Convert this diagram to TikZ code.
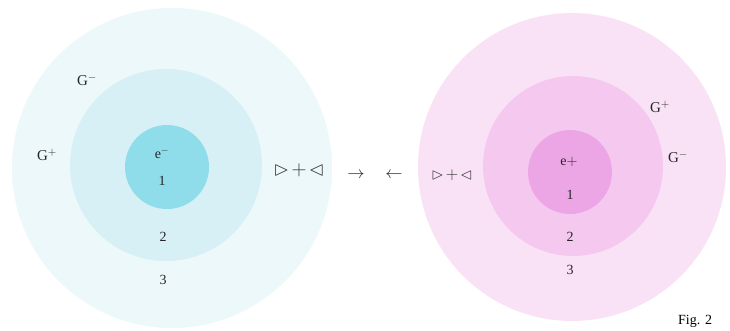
\documentclass[tikz,border=0pt]{standalone}
\usepackage{amssymb}
\usepackage{fontspec}
\setmainfont{Liberation Serif}
\definecolor{bOut}{HTML}{EDF8FB}
\definecolor{bMid}{HTML}{D6F0F5}
\definecolor{bIn}{HTML}{8FDCEA}
\definecolor{pOut}{HTML}{FAE2F6}
\definecolor{pMid}{HTML}{F5C8EF}
\definecolor{pIn}{HTML}{EDA6E5}
\tikzset{lbl/.style={inner sep=0pt, font=\fontsize{14}{15}\selectfont, text=black!85},
  glbl/.style={inner sep=0pt, font=\fontsize{15}{16}\selectfont, text=black!85},
  tri/.style={inner sep=0pt, font=\fontsize{20}{21}\selectfont, text=black!80}}
\begin{document}
\begin{tikzpicture}[x=1pt,y=-1pt]
\clip (0,0) rectangle (730,330);
\fill[white] (0,0) rectangle (730,330);
% left atom
\fill[bOut] (172,168) circle (160);
\fill[bMid] (166,165) circle (96);
\fill[bIn] (167,167) circle (42);
% right atom
\fill[pOut] (572,167) circle (154);
\fill[pMid] (573,166) circle (90);
\fill[pIn] (570,172) circle (42);
% left labels
\node[glbl] (gm1) at (87,80) {G$^{-}$};
\node[glbl] (gp1) at (47,155) {G$^{+}$};
\node[lbl] (e1) at (162,153) {e$^{-}$};
\node[lbl] (n11) at (162,181) {1};
\node[lbl] (n12) at (163,237) {2};
\node[lbl] (n13) at (163,280) {3};
\node[tri] (t1) at (299,170) {$\vartriangleright\!+\!\vartriangleleft$};
\node[lbl, font=\fontsize{17}{18}\selectfont] (a1) at (356,175) {$\rightarrow$};
\node[lbl, font=\fontsize{17}{18}\selectfont] (a2) at (394,175) {$\leftarrow$};
\node[tri, font=\fontsize{16}{17}\selectfont] (t2) at (452,175) {$\vartriangleright\!+\!\vartriangleleft$};
% right labels
\node[glbl] (gp2) at (660,107) {G$^{+}$};
\node[glbl] (gm2) at (678,157) {G$^{-}$};
\node[lbl] (e2) at (569,162) {e$+$};
\node[lbl] (n21) at (570,195) {1};
\node[lbl] (n22) at (570,237) {2};
\node[lbl] (n23) at (570,270) {3};
\node[anchor=south west, inner sep=0pt, font=\fontsize{14}{15}\selectfont] (fig) at (678,328) {Fig. 2};
\end{tikzpicture}
\end{document}
